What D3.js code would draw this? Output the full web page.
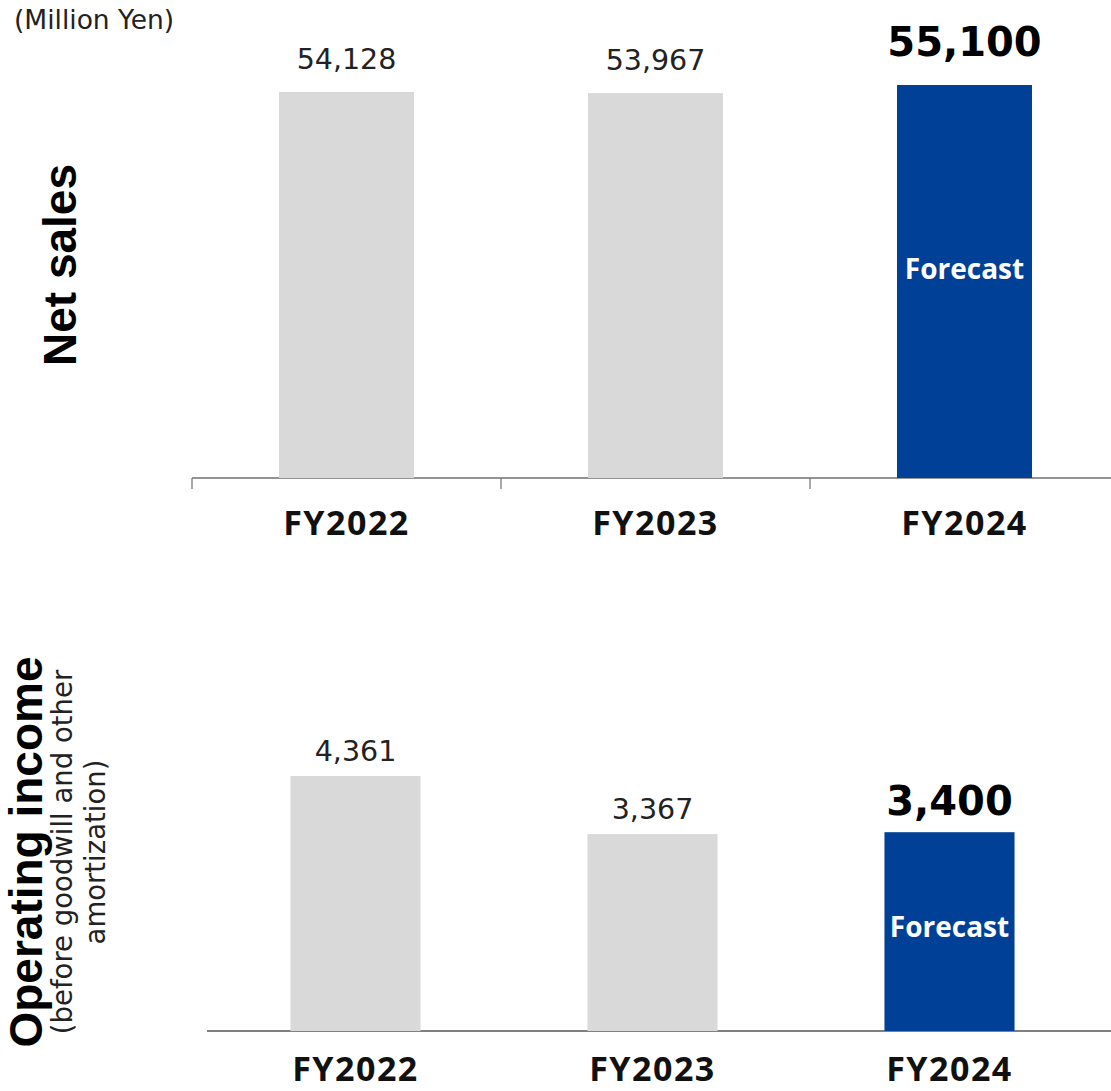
<!DOCTYPE html>
<html>
<head>
<meta charset="utf-8">
<script src="https://cdn.jsdelivr.net/npm/d3@7"></script>
<style>
  html, body { margin: 0; padding: 0; background: #fff; }
  svg { display: block; }
</style>
</head>
<body>
<script>
// Fiscal years and results (million yen); the last year is a forecast
const years = ["FY2022", "FY2023", "FY2024"];
const netSales = [54128, 53967, 55100];
const operatingIncome = [4361, 3367, 3400];
const isForecast = [false, false, true];
const salesLabels = ["54,128", "53,967", "55,100"];
const incomeLabels = ["4,361", "3,367", "3,400"];

const W = 1111, H = 1091;
const GREY = "#d9d9d9", BLUE = "#004097";
const numFont = "'DejaVu Sans', Verdana, sans-serif";

const svg = d3.select("body").append("svg")
  .attr("width", W).attr("height", H);

// Unit note
svg.append("text")
  .attr("x", 14).attr("y", 29)
  .attr("font-family", numFont).attr("font-size", 26.5)
  .attr("fill", "#222")
  .text("(Million Yen)");

function panel(cfg) {
  const x = d3.scaleBand()
    .domain(years)
    .range([cfg.x0, cfg.x0 + 3 * cfg.step])
    .paddingInner(cfg.pad).paddingOuter(cfg.pad / 2);
  const y = d3.scaleLinear()
    .domain([0, cfg.max])
    .range([cfg.base, cfg.base - cfg.plotH]);

  const g = svg.append("g");

  // Category axis line
  g.append("line")
    .attr("x1", cfg.x0).attr("x2", W)
    .attr("y1", cfg.base).attr("y2", cfg.base)
    .attr("stroke", cfg.axisColor).attr("stroke-width", cfg.axisW);
  if (cfg.tickLen > 0) {
    // Ticks at band boundaries
    g.selectAll("line.bound")
      .data(years)
      .join("line")
      .attr("class", "bound")
      .attr("x1", d => x(d) - x.step() * x.paddingInner() / 2)
      .attr("x2", d => x(d) - x.step() * x.paddingInner() / 2)
      .attr("y1", cfg.base).attr("y2", cfg.base + cfg.tickLen)
      .attr("stroke", cfg.axisColor).attr("stroke-width", 1.2);
  }

  // Bars
  g.selectAll("rect.bar")
    .data(cfg.values)
    .join("rect")
    .attr("class", "bar")
    .attr("x", (d, i) => x(years[i]))
    .attr("width", x.bandwidth())
    .attr("y", d => y(d))
    .attr("height", d => cfg.base - y(d))
    .attr("fill", (d, i) => isForecast[i] ? BLUE : GREY);

  // Value labels
  g.selectAll("text.val")
    .data(cfg.values)
    .join("text")
    .attr("class", "val")
    .attr("x", (d, i) => x(years[i]) + x.bandwidth() / 2)
    .attr("y", (d, i) => y(d) - (isForecast[i] ? cfg.boldGap : cfg.gap))
    .attr("text-anchor", "middle")
    .attr("font-family", numFont)
    .attr("font-weight", (d, i) => isForecast[i] ? "bold" : "normal")
    .attr("font-size", (d, i) => isForecast[i] ? 40 : 28.5)
    .attr("fill", (d, i) => isForecast[i] ? "#000" : "#222")
    .text((d, i) => cfg.labels[i]);

  // Forecast tag inside the bar
  g.selectAll("text.fc")
    .data(cfg.values.filter((d, i) => isForecast[i]))
    .join("text")
    .attr("class", "fc")
    .attr("x", x(years[2]) + x.bandwidth() / 2)
    .attr("y", d => y(d / 2) + cfg.fcShift)
    .attr("text-anchor", "middle")
    .attr("font-family", "'Open Sans', 'Noto Sans', sans-serif")
    .attr("font-weight", "bold")
    .attr("font-size", 28)
    .attr("fill", "#fff")
    .text("Forecast");

  // Year labels
  g.selectAll("text.yr")
    .data(years)
    .join("text")
    .attr("class", "yr")
    .attr("x", d => x(d) + x.bandwidth() / 2)
    .attr("y", cfg.yearY)
    .attr("text-anchor", "middle")
    .attr("font-family", "'Open Sans', 'Noto Sans', sans-serif")
    .attr("font-weight", "bold")
    .attr("font-size", 34)
    .attr("letter-spacing", 1.5)
    .attr("fill", "#111")
    .text(d => d);

  return g;
}

panel({
  values: netSales, labels: salesLabels, max: 55100,
  x0: 192, step: 309, pad: 0.563, base: 478, plotH: 393,
  tickLen: 11, axisColor: "#707070", axisW: 1.5,
  gap: 23, boldGap: 29, fcShift: -3, yearY: 535
});

panel({
  values: operatingIncome, labels: incomeLabels, max: 4361,
  x0: 207, step: 297, pad: 0.562, base: 1031, plotH: 255,
  tickLen: 0, axisColor: "#808080", axisW: 2,
  gap: 15, boldGap: 17, fcShift: 5, yearY: 1081
});

// Vertical panel titles
svg.append("text")
  .attr("transform", "translate(76,265) rotate(-90)")
  .attr("text-anchor", "middle")
  .attr("font-family", "'Liberation Sans', Arial, sans-serif")
  .attr("font-weight", "bold").attr("font-size", 46)
  .attr("fill", "#000")
  .text("Net sales");

svg.append("text")
  .attr("transform", "translate(42,852) rotate(-90)")
  .attr("text-anchor", "middle")
  .attr("font-family", "'Liberation Sans', Arial, sans-serif")
  .attr("font-weight", "bold").attr("font-size", 46)
  .attr("fill", "#000")
  .text("Operating income");

const sub = svg.append("text")
  .attr("transform", "translate(72,852) rotate(-90)")
  .attr("text-anchor", "middle")
  .attr("font-family", numFont)
  .attr("font-size", 27.5)
  .attr("fill", "#222");
sub.append("tspan").attr("x", 0).attr("dy", 0).text("(before goodwill and other");
sub.append("tspan").attr("x", 0).attr("dy", 33).text("amortization)");
</script>
</body>
</html>
